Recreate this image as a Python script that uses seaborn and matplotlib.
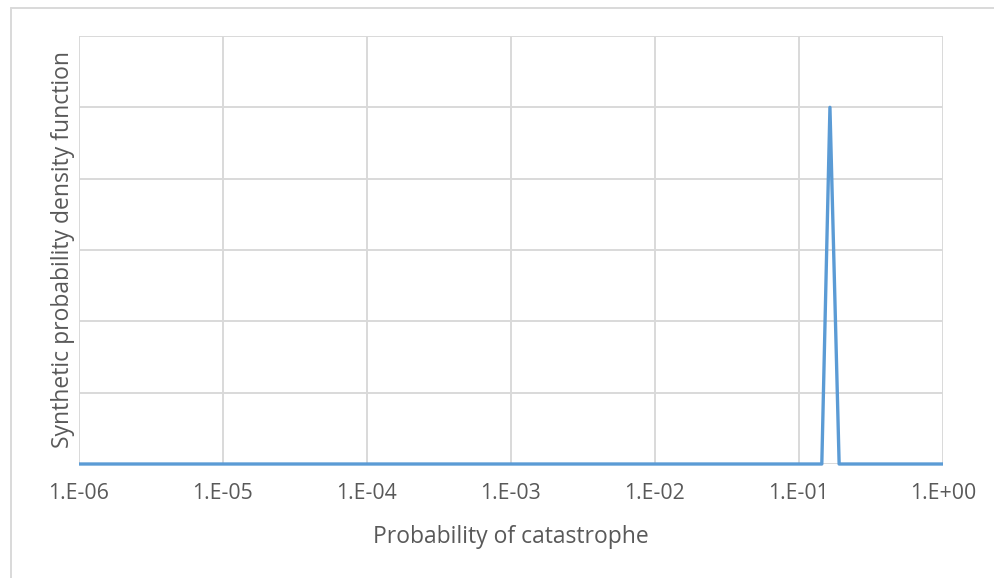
import numpy as np
import pandas as pd
import matplotlib
matplotlib.use("Agg")
import matplotlib.pyplot as plt
import seaborn as sns
from matplotlib.lines import Line2D

# ---- data ----
prob = [1e-6, 0.144, 0.164, 0.19, 1.0]
density = [0.0, 0.0, 5.0, 0.0, 0.0]
xtick_values = [1e-6, 1e-5, 1e-4, 1e-3, 1e-2, 1e-1, 1e0]
xtick_labels = ["1.E-06", "1.E-05", "1.E-04", "1.E-03", "1.E-02", "1.E-01", "1.E+00"]
ytick_values = [0, 1, 2, 3, 4, 5, 6]

df = pd.DataFrame({"prob": prob, "density": density})

sns.set_theme(style="white")
plt.rcParams["font.family"] = ["Open Sans", "DejaVu Sans"]

W, H = 994, 578
fig = plt.figure(figsize=(W / 100, H / 100), dpi=100)
ax_h = 464 - 36
ax_w = 943 - 79
ax = fig.add_axes([79 / W, 1 - 464 / H, ax_w / W, ax_h / H])

grid_c = "#D9D9D9"
text_c = "#595959"

sns.lineplot(data=df, x="prob", y="density", ax=ax, color="#5B9BD5",
             linewidth=2.4, zorder=3)
for ln in ax.lines:
    ln.set_clip_on(False)
    ln.set_solid_capstyle("butt")
ax.set_xscale("log")
ax.set_xlim(1e-6, 1.0)
ax.set_ylim(0, 6)
ax.set_xticks(xtick_values)
ax.set_xticklabels(xtick_labels)
ax.minorticks_off()
ax.set_yticks(ytick_values)
ax.set_yticklabels([])
ax.grid(True, color=grid_c, linewidth=1.4, zorder=0)
for s in ax.spines.values():
    s.set_visible(False)
ax.tick_params(axis="both", length=0, labelsize=15.3, colors=text_c, pad=14)

ax.set_xlabel("Probability of catastrophe", fontsize=16.5, color=text_c, va="top")
ax.xaxis.set_label_coords(0.5, (464 - 525) / ax_h)
ax.set_ylabel("Synthetic probability density function", fontsize=16.5, color=text_c)
ax.yaxis.set_label_coords((75 - 79) / ax_w, 0.5)

# outer chart border (top and left visible)
fig.add_artist(Line2D([10.5 / W, 1.0], [1 - 7.5 / H, 1 - 7.5 / H],
                      transform=fig.transFigure, color=grid_c, linewidth=1.4))
fig.add_artist(Line2D([10.5 / W, 10.5 / W], [0.0, 1 - 7.5 / H],
                      transform=fig.transFigure, color=grid_c, linewidth=1.4))

fig.savefig("out.png", dpi=100)
